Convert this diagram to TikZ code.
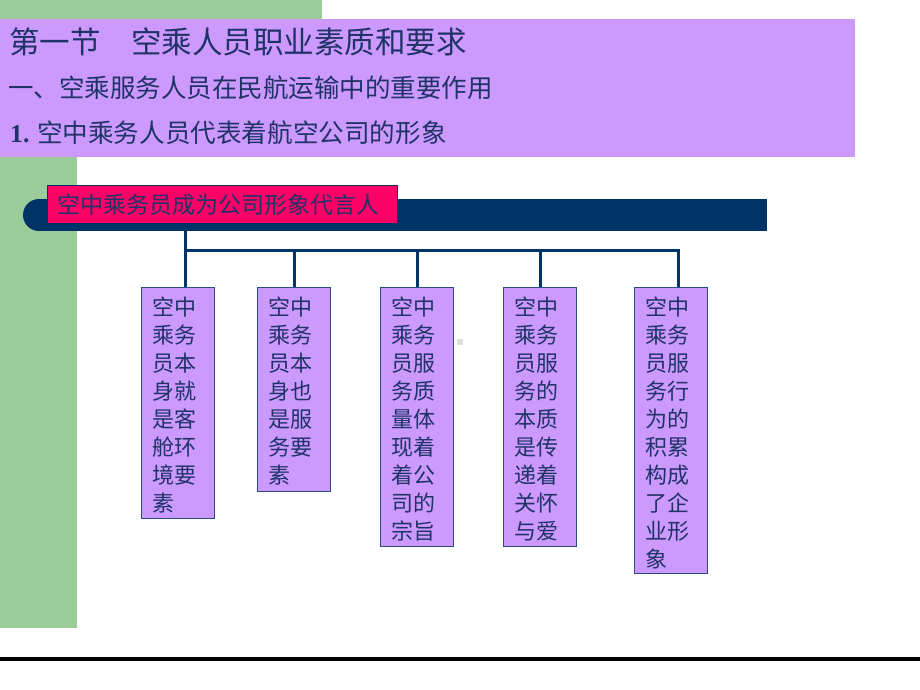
\documentclass[tikz,border=0pt]{standalone}
\usepackage{fontspec}
\setmainfont{Liberation Serif}
\newfontfamily\cjk{Noto Sans CJK SC}
\definecolor{gbar}{HTML}{9CCC9A}
\definecolor{purp}{HTML}{CC99FF}
\definecolor{navy}{HTML}{003366}
\definecolor{pinkc}{HTML}{FF0066}
\definecolor{ink}{HTML}{1F3366}
\definecolor{leafedge}{HTML}{2A4A80}
\begin{document}
\begin{tikzpicture}[x=1pt,y=-1pt,
  conn/.style={draw=navy, line width=3pt, line join=miter},
  leaf/.style={draw=leafedge, line width=1.2pt, fill=purp, inner sep=0pt, minimum width=73pt, anchor=north west},
  leaftext/.style={anchor=north west, inner sep=0pt, align=left, text=ink, font={\cjk\fontsize{22pt}{28pt}\selectfont}},
  head/.style={anchor=west, inner sep=0pt, text=ink},
  pinkbox/.style={fill=pinkc, draw=navy, line width=1pt, minimum height=38pt, text width=330pt, inner xsep=10pt, inner ysep=0pt, align=left, text=ink, anchor=north west, font={\cjk\fontsize{23pt}{27pt}\selectfont}}]
\useasboundingbox (0,0) rectangle (920,690);
% background bands
\fill[gbar] (0,0) rectangle (322,19);
\fill[gbar] (0,0) rectangle (77,628);
\fill[purp] (0,19) rectangle (855,157);
% headings
\node[head, font={\cjk\fontsize{30.5pt}{35pt}\selectfont}] (h1) at (9,42) {第一节　空乘人员职业素质和要求};
\node[head, font={\cjk\fontsize{25.5pt}{30pt}\selectfont}] (h2) at (8,88) {一、空乘服务人员在民航运输中的重要作用};
\node[head, font={\cjk\fontsize{25.6pt}{30pt}\selectfont}] (h3) at (10,133) {{\rmfamily\bfseries 1.} 空中乘务人员代表着航空公司的形象};
% navy bar
\fill[navy] (39,199) rectangle (767,231);
\fill[navy] (39,215) circle (16pt);
% top box
\node[pinkbox] (p) at (47,185) {空中乘务员成为公司形象代言人};
% leaf boxes
\node[leaf, minimum height=231pt] (b1) at (141,287) {};
\node[leaf, minimum height=204pt] (b2) at (257,287) {};
\node[leaf, minimum height=259pt] (b3) at (380,287) {};
\node[leaf, minimum height=259pt] (b4) at (503,287) {};
\node[leaf, minimum height=286pt] (b5) at (634,287) {};
% connectors
\coordinate (bL) at (185,250);
\coordinate (bR) at (678,250);
\draw[conn] (p.south -| bL) -- (bL |- b1.north);
\draw[conn] (bL) -- (bR) -- (bR |- b5.north);
\draw[conn] (b2.north |- bL) -- (b2.north);
\draw[conn] (b3.north |- bL) -- (b3.north);
\draw[conn] (b4.north |- bL) -- (b4.north);
% leaf texts
\node[leaftext] (t1) at ([xshift=11pt,yshift=-10pt]b1.north west) {空中\\乘务\\员本\\身就\\是客\\舱环\\境要\\素};
\node[leaftext] (t2) at ([xshift=11pt,yshift=-10pt]b2.north west) {空中\\乘务\\员本\\身也\\是服\\务要\\素};
\node[leaftext] (t3) at ([xshift=11pt,yshift=-10pt]b3.north west) {空中\\乘务\\员服\\务质\\量体\\现着\\着公\\司的\\宗旨};
\node[leaftext] (t4) at ([xshift=11pt,yshift=-10pt]b4.north west) {空中\\乘务\\员服\\务的\\本质\\是传\\递着\\关怀\\与爱};
\node[leaftext] (t5) at ([xshift=11pt,yshift=-10pt]b5.north west) {空中\\乘务\\员服\\务行\\为的\\积累\\构成\\了企\\业形\\象};
% small artefact square
\fill[black!13] (457,339) rectangle (463,345);
% bottom rule
\fill[black] (0,657) rectangle (920,661);
\end{tikzpicture}
\end{document}
